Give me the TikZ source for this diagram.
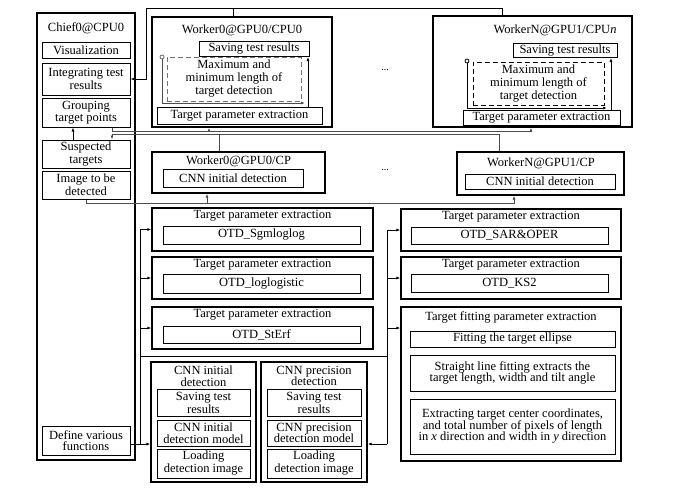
\documentclass[tikz,border=0pt]{standalone}
\usepackage{fontspec}
\setmainfont{Liberation Serif}
\usetikzlibrary{arrows.meta}
\begin{document}
\begin{tikzpicture}[x=1pt, y=-1pt, line width=0.8pt, >={Latex[length=4pt,width=3pt]},
  every node/.style={font=\fontsize{12.5}{13}\selectfont},
  box node/.style={draw, line width=1.3pt, inner sep=0pt},
  inner node/.style={draw, line width=1pt, inner sep=0.5pt, align=center},
  title node/.style={inner sep=0pt, align=center},
  tight/.style={font=\fontsize{12.5}{11.5}\selectfont},
  circ node/.style={circle, draw, inner sep=0pt, minimum size=4pt, line width=0.8pt},
  bus/.style={draw=black!70}]
\useasboundingbox (0,0) rectangle (686,488);
\begin{scope}
% chief
\node[box node, minimum width=98, minimum height=447] (chief) at (86,236.5) {};
\node[title node] (chieft) at (86,28) {Chief0@CPU0};
\node[inner node, minimum width=88, minimum height=16] (vis) at (86,50) {Visualization};
\node[inner node, minimum width=88, minimum height=32] (integ) at (86,79) {Integrating test\\results};
\node[inner node, minimum width=88, minimum height=29, tight] (group) at (86,112.5) {Grouping\\target points};
\node[inner node, minimum width=88, minimum height=28] (susp) at (86,154) {Suspected\\targets};
\node[inner node, minimum width=88, minimum height=28] (image) at (86,185) {Image to be\\detected};
\node[inner node, minimum width=88, minimum height=29, tight] (define) at (86,440.5) {Define various\\functions};
% workers
\node[box node, minimum width=180, minimum height=110] (w0) at (242,72) {};
\node[title node] (w0t) at (242,30) {Worker0@GPU0/CPU0};
\node[inner node, minimum width=110, minimum height=15] (w0save) at (254,49) {Saving test results};
\node[inner node, draw=black!55, dash pattern=on 5pt off 3pt, minimum width=134, minimum height=44] (w0dash) at (234,79) {Maximum and\\minimum length of\\target detection};
\node[circ node, draw=black!60] (w0circ) at (162,57) {};
\node[inner node, minimum width=165, minimum height=17] (w0tpe) at (239.5,115.5) {Target parameter extraction};
\node[box node, minimum width=199, minimum height=111] (wN) at (532.5,71.5) {};
\node[title node] (wNt) at (555,30) {WorkerN@GPU1/CPU\textit{n}};
\node[inner node, minimum width=104, minimum height=14] (wNsave) at (565,50.5) {Saving test results};
\node[inner node, dash pattern=on 5pt off 3pt, minimum width=131, minimum height=43] (wNdash) at (538.5,83.5) {Maximum and\\minimum length of\\target detection};
\node[circ node] (wNcirc) at (467,61) {};
\node[inner node, minimum width=157, minimum height=15] (wNtpe) at (541.5,117.5) {Target parameter extraction};
\node[font=\fontsize{10}{10}\selectfont] (dots1) at (385,70) {...};
\node[box node, minimum width=173, minimum height=41] (c0) at (238.5,172.5) {};
\node[title node] (c0t) at (238.5,161) {Worker0@GPU0/CP};
\node[inner node, minimum width=140, minimum height=18] (c0cnn) at (233,178.5) {CNN initial detection};
\node[box node, minimum width=167, minimum height=43] (cN) at (540.5,173.5) {};
\node[title node] (cNt) at (541,163) {WorkerN@GPU1/CP};
\node[inner node, minimum width=150, minimum height=15] (cNcnn) at (540,181.5) {CNN initial detection};
\node[font=\fontsize{10}{10}\selectfont] (dots2) at (385,170) {...};
% functions
\node[box node, minimum width=221, minimum height=43] (L1) at (262.5,229.5) {};
\node[title node] (L1t) at (262.5,216) {Target parameter extraction};
\node[inner node, minimum width=197, minimum height=18] (L1in) at (261.5,235) {OTD\_Sgmloglog};
\node[box node, minimum width=221, minimum height=42] (L2) at (262.5,278) {};
\node[title node] (L2t) at (262.5,265) {Target parameter extraction};
\node[inner node, minimum width=197, minimum height=19] (L2in) at (261.5,283.5) {OTD\_loglogistic};
\node[box node, minimum width=221, minimum height=42] (L3) at (262.5,328) {};
\node[title node] (L3t) at (262.5,315) {Target parameter extraction};
\node[inner node, minimum width=197, minimum height=17] (L3in) at (261.5,334.5) {OTD\_StErf};
\node[box node, minimum width=220, minimum height=42] (R1) at (511,230) {};
\node[title node] (R1t) at (511,216.5) {Target parameter extraction};
\node[inner node, minimum width=197, minimum height=17] (R1in) at (509.5,235.5) {OTD\_SAR\&OPER};
\node[box node, minimum width=220, minimum height=42] (R2) at (511,278) {};
\node[title node] (R2t) at (511,265) {Target parameter extraction};
\node[inner node, minimum width=197, minimum height=18] (R2in) at (509.5,283) {OTD\_KS2};
\node[box node, minimum width=220, minimum height=154] (R3) at (511,384) {};
\node[title node] (R3t) at (511,317) {Target fitting parameter extraction};
\node[inner node, minimum width=205, minimum height=16] (R3a) at (512.5,339) {Fitting the target ellipse};
\node[inner node, minimum width=205, minimum height=36, tight] (R3b) at (512.5,373) {Straight line fitting extracts the\\target length, width and tilt angle};
\node[inner node, minimum width=205, minimum height=55, tight] (R3c) at (512.5,426.5) {Extracting target center coordinates,\\and total number of pixels of length\\in \textit{x} direction and width in \textit{y} direction};
% cnn
\node[box node, minimum width=105, minimum height=120] (B1) at (203.5,422) {};
\node[title node, tight] (B1t) at (203.5,376) {CNN initial\\detection};
\node[inner node, minimum width=93, minimum height=27] (B1a) at (203.5,402.5) {Saving test\\results};
\node[inner node, minimum width=93, minimum height=26, tight] (B1b) at (203.5,433) {CNN initial\\detection model};
\node[inner node, minimum width=93, minimum height=29] (B1c) at (203.5,463.5) {Loading\\detection image};
\node[box node, minimum width=106, minimum height=120] (B2) at (314,422) {};
\node[title node, tight] (B2t) at (314,376) {CNN precision\\detection};
\node[inner node, minimum width=94, minimum height=27] (B2a) at (314,402.5) {Saving test\\results};
\node[inner node, minimum width=94, minimum height=26, tight] (B2b) at (314,433) {CNN precision\\detection model};
\node[inner node, minimum width=94, minimum height=29] (B2c) at (314,463.5) {Loading\\detection image};
%\node[inner node] () at (,) {};
\end{scope}
\begin{scope}
\draw[->] (502,0 |- wN.north) |- (146,8) |- (integ.east);
\draw (233,0 |- w0.north) -- (233,8);
\draw[bus,->] (112,0 |- group.south) |- (531,131) -- (531,0 |- wN.south);
\draw[bus,->] (209,131) -- (209,0 |- w0.south);
\draw[bus,->] (499,0 |- cN.north) |- (112,134) -- (112,0 |- susp.north);
\draw[bus] (219,0 |- c0.north) -- (219,134);
\draw[->] (73,0 |- susp.north) -- (73,0 |- group.south);
\draw[bus,->] (image.south) |- (514,203) -- (514,0 |- cN.south);
\draw[bus,->] (207,203) -- (207,0 |- c0.south);
\draw[bus,->] (w0circ) |- (305,103);
\draw[->] (308,0 |- w0tpe.north) -- (308,0 |- w0save.south);
\draw[->] (wNcirc) |- (607,108);
\draw[->] (611,0 |- wNtpe.north) -- (611,0 |- wNsave.south);
\draw (140,0 |- L1.west) -- (140,444);
\draw[->] (140,0 |- L1.west) -- (L1.west);
\draw[->] (140,0 |- L2.west) -- (L2.west);
\draw[->] (140,0 |- L3.west) -- (L3.west);
\draw[->] (define.east |- 0,444) -- (B1.west |- 0,444);
\draw (387,0 |- R1.west) -- (387,444);
\draw[->] (387,0 |- R1.west) -- (R1.west);
\draw[->] (387,0 |- R2.west) -- (R2.west);
\draw[->] (387,328) -- (R3.west |- 0,328);
\draw[->] (387,444) -- (B2.east |- 0,444);
\draw (140,356) -- (387,356);
%\draw (v) -- (v);
\end{scope}
\end{tikzpicture}
\end{document}
